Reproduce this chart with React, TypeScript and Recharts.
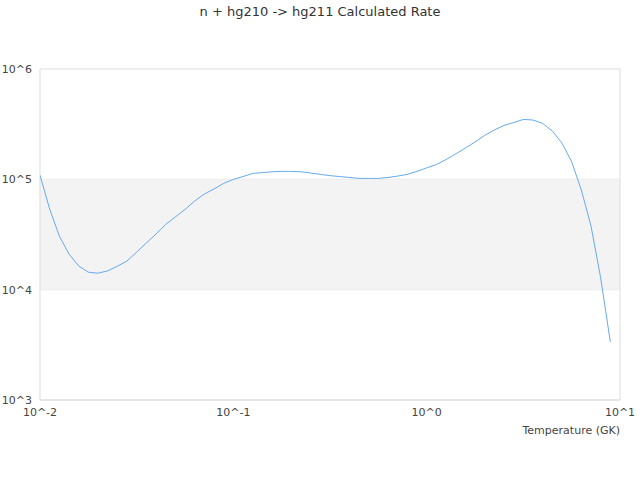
import React from 'react';
import { LineChart, Line, XAxis, YAxis, CartesianGrid, ReferenceArea, ReferenceLine } from 'recharts';

// temperature grid (GK), 20 points per decade from 10^-2
const temperatures: number[] = [
  0.01, 0.01122, 0.01259, 0.01413, 0.01585, 0.01778, 0.01995, 0.02239, 0.02512, 0.02818,
  0.03162, 0.03548, 0.03981, 0.04467, 0.05012, 0.05623, 0.0631, 0.07079, 0.07943, 0.08913,
  0.1, 0.1122, 0.1259, 0.1413, 0.1585, 0.1778, 0.1995, 0.2239, 0.2512, 0.2818,
  0.3162, 0.3548, 0.3981, 0.4467, 0.5012, 0.5623, 0.631, 0.7079, 0.7943, 0.8913,
  1.0, 1.122, 1.259, 1.413, 1.585, 1.778, 1.995, 2.239, 2.512, 2.818,
  3.162, 3.548, 3.981, 4.467, 5.012, 5.623, 6.31, 7.079, 7.943, 8.913,
];

// calculated rate
const rates: number[] = [
  1.09e5, 5.38e4, 3.06e4, 2.1e4, 1.64e4, 1.44e4, 1.41e4, 1.48e4, 1.63e4, 1.82e4,
  2.19e4, 2.65e4, 3.19e4, 3.9e4, 4.56e4, 5.33e4, 6.36e4, 7.36e4, 8.17e4, 9.2e4,
  9.97e4, 1.06e5, 1.13e5, 1.15e5, 1.17e5, 1.18e5, 1.18e5, 1.17e5, 1.14e5, 1.11e5,
  1.08e5, 1.06e5, 1.04e5, 1.02e5, 1.02e5, 1.02e5, 1.04e5, 1.07e5, 1.11e5, 1.18e5,
  1.27e5, 1.36e5, 1.51e5, 1.7e5, 1.92e5, 2.18e5, 2.5e5, 2.8e5, 3.08e5, 3.27e5,
  3.49e5, 3.45e5, 3.21e5, 2.74e5, 2.13e5, 1.44e5, 8.0e4, 3.78e4, 1.28e4, 3.36e3,
];

const xTicks = [0.01, 0.1, 1, 10];
const yTicks = [1e3, 1e4, 1e5, 1e6];

const data = temperatures.map((t, i) => ({ t, rate: rates[i] }));

const powLabel = (v: number) => `10^${Math.round(Math.log10(v))}`;

const FONT = '"DejaVu Sans", sans-serif';

export default function App() {
  return (
    <div style={{ position: 'absolute', left: 0, top: 0, width: 640, height: 480, fontFamily: FONT, background: '#fff' }}>
      <div style={{ position: 'absolute', top: 4, left: 0, width: 640, textAlign: 'center', fontSize: 13, color: '#333' }}>
        n + hg210 -&gt; hg211 Calculated Rate
      </div>
      <LineChart width={640} height={480} data={data} margin={{ top: 69, right: 20, bottom: 50, left: 0 }}>
        <ReferenceArea y1={1e4} y2={1e5} fill="#f3f3f3" fillOpacity={1} stroke="none" />
        <CartesianGrid vertical={false} stroke="#dddddd" horizontalValues={yTicks} />
        <ReferenceLine x={0.01} stroke="#dddddd" />
        <ReferenceLine x={10} stroke="#dddddd" />
        <XAxis
          dataKey="t"
          type="number"
          scale="log"
          domain={[0.01, 10]}
          ticks={xTicks}
          tickFormatter={powLabel}
          allowDataOverflow
          axisLine={{ stroke: '#dddddd' }}
          tickLine={false}
          tickSize={0}
          tickMargin={8}
          height={30}
          tick={{ fill: '#444', fontSize: 11, fontFamily: FONT }}
        />
        <YAxis
          type="number"
          scale="log"
          domain={[1e3, 1e6]}
          ticks={yTicks}
          tickFormatter={powLabel}
          allowDataOverflow
          axisLine={false}
          tickLine={false}
          tickSize={0}
          tickMargin={8}
          width={40}
          tick={{ fill: '#444', fontSize: 11, fontFamily: FONT }}
        />
        <Line
          type="linear"
          dataKey="rate"
          stroke="#66aaee"
          strokeWidth={1}
          dot={false}
          isAnimationActive={false}
        />
      </LineChart>
      <div style={{ position: 'absolute', top: 424, right: 20, fontSize: 11, color: '#444' }}>
        Temperature (GK)
      </div>
    </div>
  );
}
